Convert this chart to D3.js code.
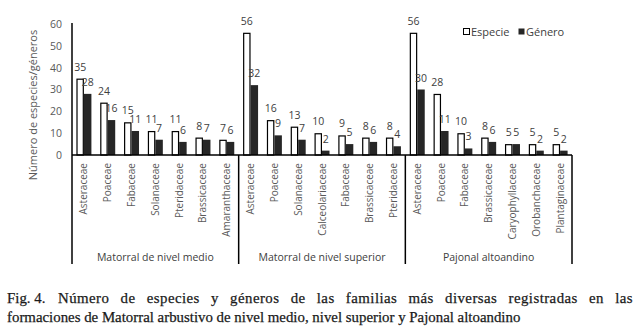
<!DOCTYPE html>
<html>
<head>
<meta charset="utf-8">
<script src="https://cdn.jsdelivr.net/npm/d3@7"></script>
<style>
  body { margin: 0; background: #fff; }
  svg { display: block; font-family: 'Open Sans', sans-serif; }
  .tick-label { fill: #595959; font-size: 10.5px; }
  .cat-label { fill: #595959; font-size: 10px; }
  .val-label { fill: #404040; font-size: 10.5px; }
  .group-label { fill: #404040; font-size: 10.5px; }
  .caption { font-family: 'Liberation Serif', serif; fill: #1a1a1a; stroke: #1a1a1a; stroke-width: 0.25px; }
</style>
</head>
<body>
<div id="chart"></div>
<script>
// Data
var groupNames = ['Matorral de nivel medio', 'Matorral de nivel superior', 'Pajonal altoandino'];

var familiesMedio = ['Asteraceae', 'Poaceae', 'Fabaceae', 'Solanaceae', 'Pteridaceae', 'Brassicaceae', 'Amaranthaceae'];
var especieMedio = [35, 24, 15, 11, 11, 8, 7];
var generoMedio = [28, 16, 11, 7, 6, 7, 6];

var familiesSuperior = ['Asteraceae', 'Poaceae', 'Solanaceae', 'Calceolariaceae', 'Fabaceae', 'Brassicaceae', 'Pteridaceae'];
var especieSuperior = [56, 16, 13, 10, 9, 8, 8];
var generoSuperior = [32, 9, 7, 2, 5, 6, 4];

var familiesPajonal = ['Asteraceae', 'Poaceae', 'Fabaceae', 'Brassicaceae', 'Caryophyllaceae', 'Orobanchaceae', 'Plantaginaceae'];
var especiePajonal = [56, 28, 10, 8, 5, 5, 5];
var generoPajonal = [30, 11, 3, 6, 5, 2, 2];

var seriesNames = ['Especie', 'Género'];
var yTicks = [0, 10, 20, 30, 40, 50, 60];

var captionLine1a = 'Fig. 4.';
var captionLine1b = 'Número de especies y géneros de las familias más diversas registradas en las';
var captionLine2 = 'formaciones de Matorral arbustivo de nivel medio, nivel superior y Pajonal altoandino';

(function() {
  // Build rows
  var groups = [
    { name: groupNames[0], families: familiesMedio, esp: especieMedio, gen: generoMedio },
    { name: groupNames[1], families: familiesSuperior, esp: especieSuperior, gen: generoSuperior },
    { name: groupNames[2], families: familiesPajonal, esp: especiePajonal, gen: generoPajonal }
  ];

  var rows = [];
  groups.forEach(function(g, gi) {
    g.families.forEach(function(f, i) {
      rows.push({ key: gi + '-' + f, family: f, group: gi, values: [g.esp[i], g.gen[i]] });
    });
  });

  var width = 640, height = 334;
  var plotLeft = 72, plotRight = 572, plotTop = 24, base = 155, plotBottom = 264;

  var svg = d3.select('#chart')
              .append('svg')
              .attr('width', width)
              .attr('height', height);

  var x = d3.scaleBand()
            .domain(rows.map(function(d) { return d.key; }))
            .range([plotLeft, plotRight])
            .paddingInner(0.37)
            .paddingOuter(0.185);

  var xInner = d3.scaleBand()
                 .domain(seriesNames)
                 .range([0, x.bandwidth()]);

  var y = d3.scaleLinear()
            .domain([0, 60])
            .range([base, plotTop]);

  // Y axis
  var yAxis = d3.axisLeft(y).tickValues(yTicks).tickSize(0).tickPadding(10);
  var yG = svg.append('g')
              .attr('transform', 'translate(' + plotLeft + ',0)')
              .call(yAxis);
  yG.select('.domain').remove();
  yG.selectAll('text')
    .attr('class', 'tick-label')
    .attr('fill', null);
  yG.attr('font-family', null).attr('font-size', null);

  svg.append('text')
     .attr('class', 'tick-label')
     .attr('transform', 'translate(37,105) rotate(-90)')
     .attr('text-anchor', 'middle')
     .style('font-size', '11px')
     .text('Número de especies/géneros');

  // Bars
  var cat = svg.selectAll('.cat')
               .data(rows)
               .enter()
               .append('g')
               .attr('class', 'cat')
               .attr('transform', function(d) { return 'translate(' + x(d.key) + ',0)'; });

  function pairs(d) {
    return d.values.map(function(v, i) { return { s: seriesNames[i], v: v }; });
  }

  cat.selectAll('rect')
     .data(pairs)
     .enter()
     .append('rect')
     .attr('x', function(d) { return xInner(d.s) + (d.s === 'Especie' ? 0.6 : 0); })
     .attr('width', function(d) { return xInner.bandwidth() - (d.s === 'Especie' ? 1.2 : 0); })
     .attr('y', function(d) { return y(d.v) + (d.s === 'Especie' ? 0.6 : 0); })
     .attr('height', function(d) { return base - y(d.v) - (d.s === 'Especie' ? 0.6 : 0); })
     .attr('fill', function(d) { return d.s === 'Especie' ? '#fff' : '#262626'; })
     .attr('stroke', function(d) { return d.s === 'Especie' ? '#000' : 'none'; })
     .attr('stroke-width', 1.2);

  cat.selectAll('.val-label')
     .data(pairs)
     .enter()
     .append('text')
     .attr('class', 'val-label')
     .attr('text-anchor', 'middle')
     .attr('x', function(d) { return xInner(d.s) + xInner.bandwidth() / 2; })
     .attr('y', function(d) { return y(d.v) - 8; })
     .text(function(d) { return d.v; });

  // Category labels
  cat.append('text')
     .attr('class', 'cat-label')
     .attr('text-anchor', 'end')
     .attr('transform', 'translate(' + (x.bandwidth() / 2 + 3.5) + ',163) rotate(-90)')
     .text(function(d) { return d.family; });

  // Axis lines
  svg.append('line')
     .attr('x1', plotLeft).attr('x2', plotRight)
     .attr('y1', base).attr('y2', base)
     .attr('stroke', '#000').attr('stroke-width', 1.5);

  svg.append('line')
     .attr('x1', plotLeft).attr('x2', plotLeft)
     .attr('y1', plotTop - 1).attr('y2', plotBottom)
     .attr('stroke', '#000').attr('stroke-width', 1.5);

  // Group separators and labels
  var bounds = groups.map(function(g, gi) {
    var members = rows.filter(function(r) { return r.group === gi; });
    var half = x.step() * x.paddingInner() / 2;
    var x0 = gi === 0 ? plotLeft : x(members[0].key) - half;
    var x1 = gi === groups.length - 1 ? plotRight : x(members[members.length - 1].key) + x.bandwidth() + half;
    return [x0, x1];
  });

  bounds.forEach(function(b, gi) {
    if (gi > 0) {
      svg.append('line')
         .attr('x1', b[0]).attr('x2', b[0])
         .attr('y1', base).attr('y2', plotBottom)
         .attr('stroke', '#000').attr('stroke-width', 1.5);
    }
    svg.append('text')
       .attr('class', 'group-label')
       .attr('x', (b[0] + b[1]) / 2)
       .attr('y', 261)
       .attr('text-anchor', 'middle')
       .text(groups[gi].name);
  });

  svg.append('line')
     .attr('x1', plotRight).attr('x2', plotRight)
     .attr('y1', base).attr('y2', plotBottom)
     .attr('stroke', '#000').attr('stroke-width', 1.5);

  // Legend
  var legend = svg.append('g').attr('transform', 'translate(463,28)');
  var legendX = [0, 55];
  seriesNames.forEach(function(s, i) {
    legend.append('rect')
          .attr('x', legendX[i] + 0.5).attr('y', 0.5)
          .attr('width', 6).attr('height', 6)
          .attr('fill', i === 0 ? '#fff' : '#262626')
          .attr('stroke', i === 0 ? '#000' : 'none');
    legend.append('text')
          .attr('x', legendX[i] + 8)
          .attr('y', 7.5)
          .attr('fill', '#404040')
          .style('font-size', '11px')
          .text(s);
  });

  // Caption: size font so line 2 fits its width, justify line 1
  var line2 = svg.append('text')
                 .attr('class', 'caption')
                 .attr('x', 7).attr('y', 322)
                 .style('font-size', '14px')
                 .text(captionLine2);
  var fs = 14 * 514 / line2.node().getComputedTextLength();
  line2.style('font-size', fs + 'px');

  svg.append('text')
     .attr('class', 'caption')
     .attr('x', 7).attr('y', 303)
     .style('font-size', fs + 'px')
     .text(captionLine1a);

  var line1 = svg.append('text')
                 .attr('class', 'caption')
                 .attr('x', 58).attr('y', 303)
                 .style('font-size', fs + 'px')
                 .style('letter-spacing', '0.45px')
                 .text(captionLine1b);
  var natural = line1.node().getComputedTextLength();
  var gaps = captionLine1b.split(' ').length - 1;
  line1.style('word-spacing', Math.max(0, (575 - natural) / gaps) + 'px');
})();
</script>
</body>
</html>
